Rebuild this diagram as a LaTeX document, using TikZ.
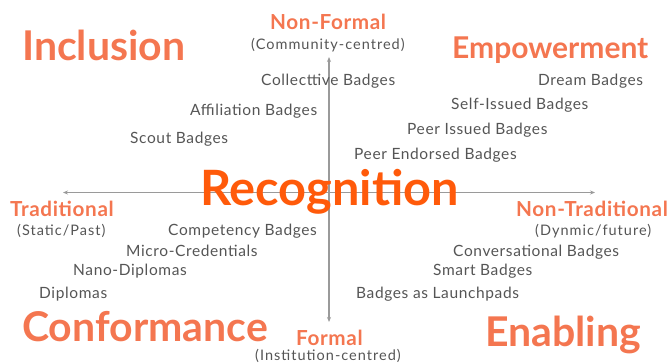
\documentclass[tikz,border=0pt]{standalone}
\usepackage{fontspec}
\setmainfont{Lato}
\usetikzlibrary{arrows.meta}
\definecolor{headc}{HTML}{F47650}
\definecolor{recc}{HTML}{FF5A0A}
\definecolor{txtc}{HTML}{555555}
\definecolor{axisc}{HTML}{9A9A9A}
\tikzset{
  big/.style={inner sep=0pt, anchor=base west, text=headc, font=\bfseries\fontsize{41}{44}\selectfont},
  mid/.style={inner sep=0pt, anchor=base west, text=headc, font=\bfseries\fontsize{30}{32}\selectfont},
  axlab/.style={inner sep=0pt, anchor=base west, text=headc, font=\bfseries\fontsize{20.7}{22}\selectfont\addfontfeature{LetterSpace=3}},
  sub/.style={inner sep=0pt, anchor=base west, text=txtc, font=\fontsize{14.5}{16}\selectfont\addfontfeature{LetterSpace=7}},
  item/.style={inner sep=0pt, anchor=base west, text=txtc, font=\fontsize{15.5}{17}\selectfont\addfontfeature{LetterSpace=4}},
  axis/.style={draw=axisc, line width=1.1pt, -{Stealth[length=5pt,width=4pt]}}
}
\begin{document}
\begin{tikzpicture}[x=1pt,y=-1pt]
\useasboundingbox (0,0) rectangle (670,364);
% axes
\coordinate (top) at (329,57);
\coordinate (bot) at (329,322);
\coordinate (lft) at (63,192.5);
\coordinate (rgt) at (595,192.5);
\coordinate (ctr) at (329,192.5);
\draw[axis] (ctr) -- (top);
\draw[axis] (ctr) -- (bot);
\draw[axis] (ctr) -- (lft);
\draw[axis] (ctr) -- (rgt);
% quadrant titles
\node[big] (incl) at (22,60) {Inclusion};
\node[mid] (empw) at (452,58) {Empowerment};
\node[big] (conf) at (22,341) {Conformance};
\node[big] (enab) at (485,346) {Enabling};
% center
\node[inner sep=0pt, anchor=base west, text=recc, font=\bfseries\fontsize{48.7}{52}\selectfont] (recog) at (200,205) {Recognition};
% axis labels
\node[axlab] (nf) at (270,30) {Non-Formal};
\node[sub] (nfs) at (251,49) {(Community-centred)};
\node[axlab] (fo) at (296,345) {Formal};
\node[sub] (fos) at (255,360) {(Institution-centred)};
\node[axlab] (tr) at (10,216) {Traditional};
\node[sub] (trs) at (17,235) {(Static/Past)};
\node[axlab] (ntr) at (516,216) {Non-Traditional};
\node[sub] (ntrs) at (535,235) {(Dynmic/future)};
% items
\node[item] (i1) at (261,85) {Collecttive Badges};
\node[item] (i2) at (190,115) {Affiliation Badges};
\node[item] (i3) at (130,143) {Scout Badges};
\node[item] (i4) at (538,85) {Dream Badges};
\node[item] (i5) at (451,109) {Self-Issued Badges};
\node[item] (i6) at (407,134) {Peer Issued Badges};
\node[item] (i7) at (354,159) {Peer Endorsed Badges};
\node[item] (i8) at (168,235) {Competency Badges};
\node[item] (i9) at (126,256) {Micro-Credentials};
\node[item] (i10) at (73,275) {Nano-Diplomas};
\node[item] (i11) at (39,298) {Diplomas};
\node[item] (i12) at (453,256) {Conversational Badges};
\node[item] (i13) at (433,275) {Smart Badges};
\node[item] (i14) at (356,298) {Badges as Launchpads};
\end{tikzpicture}
\end{document}
